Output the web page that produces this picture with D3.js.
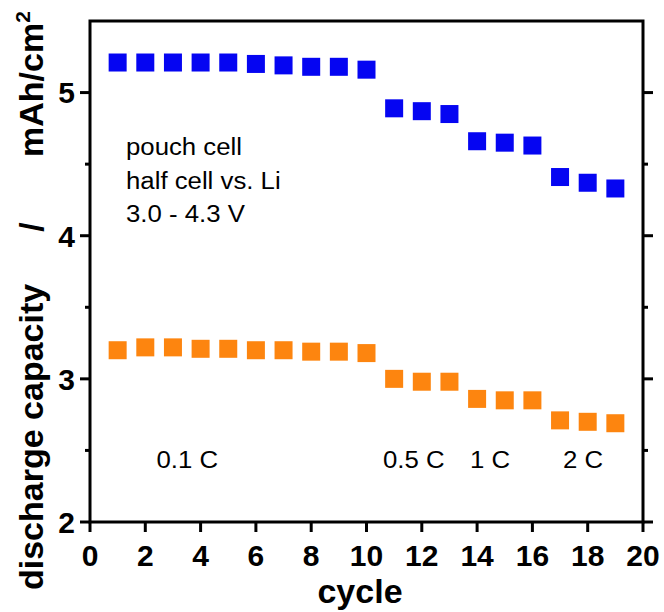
<!DOCTYPE html>
<html>
<head>
<meta charset="utf-8">
<script src="https://cdn.jsdelivr.net/npm/d3@7"></script>
<style>
  html, body { margin: 0; padding: 0; background: #fff; }
  svg { display: block; }
  text { font-family: "Liberation Sans", Arial, Helvetica, sans-serif; fill: #000; }
</style>
</head>
<body>
<svg id="chart" width="664" height="612"></svg>
<script>
// Rate-capability test: discharge capacity per cycle for the two electrodes
const cycles = [1, 2, 3, 4, 5, 6, 7, 8, 9, 10, 11, 12, 13, 14, 15, 16, 17, 18, 19];
const capacityHigh = [5.21, 5.21, 5.21, 5.21, 5.21, 5.20, 5.19, 5.18, 5.18, 5.16,
                      4.89, 4.87, 4.85, 4.66, 4.65, 4.63, 4.41, 4.37, 4.33];
const capacityLow  = [3.20, 3.22, 3.22, 3.21, 3.21, 3.20, 3.20, 3.19, 3.19, 3.18,
                      3.00, 2.98, 2.98, 2.86, 2.85, 2.85, 2.71, 2.70, 2.69];
const xTicks = [0, 2, 4, 6, 8, 10, 12, 14, 16, 18, 20];
const yTicks = [2, 3, 4, 5];
const yMinorTicks = [2.5, 3.5, 4.5];
const rateLabels = ["0.1 C", "0.5 C", "1 C", "2 C"];
const infoLines = ["pouch cell", "half cell vs. Li", "3.0 - 4.3 V"];

const svg = d3.select("#chart");
const plotL = 90, plotR = 643, plotT = 21, plotB = 522;
const x = d3.scaleLinear().domain([0, 20]).range([plotL, plotR]);
const y = d3.scaleLinear().domain([2, 5.5]).range([plotB, plotT]);

const frameW = 3, majorLen = 10, minorLen = 5;
const markSize = 18;
const blue = "#0505f2", orange = "#fd850f";

// regular text in this figure is set slightly wide
function widen(sel, factor) {
  sel.each(function () {
    const w = this.getComputedTextLength();
    d3.select(this).attr("textLength", w * factor).attr("lengthAdjust", "spacingAndGlyphs");
  });
}

// frame
svg.append("rect")
  .attr("x", plotL).attr("y", plotT)
  .attr("width", plotR - plotL).attr("height", plotB - plotT)
  .attr("fill", "none").attr("stroke", "#000").attr("stroke-width", frameW);

// x ticks (bottom, outward)
const gx = svg.append("g");
gx.selectAll("line").data(xTicks).join("line")
  .attr("x1", d => x(d)).attr("x2", d => x(d))
  .attr("y1", plotB).attr("y2", plotB + majorLen)
  .attr("stroke", "#000").attr("stroke-width", frameW);
gx.selectAll("text").data(xTicks).join("text")
  .attr("x", d => x(d)).attr("y", 566)
  .attr("text-anchor", "middle")
  .attr("font-size", 30).attr("font-weight", "bold")
  .text(d => d);

// y ticks, left and right, outward
[[plotL, -1], [plotR, 1]].forEach(([xPos, dir]) => {
  svg.append("g").selectAll("line").data(yTicks).join("line")
    .attr("x1", xPos).attr("x2", xPos + dir * majorLen)
    .attr("y1", d => y(d)).attr("y2", d => y(d))
    .attr("stroke", "#000").attr("stroke-width", frameW);
  svg.append("g").selectAll("line").data(yMinorTicks).join("line")
    .attr("x1", xPos).attr("x2", xPos + dir * minorLen)
    .attr("y1", d => y(d)).attr("y2", d => y(d))
    .attr("stroke", "#000").attr("stroke-width", frameW);
});
svg.append("g").selectAll("text").data(yTicks).join("text")
  .attr("x", 75).attr("y", d => y(d))
  .attr("dy", "0.36em")
  .attr("text-anchor", "end")
  .attr("font-size", 30).attr("font-weight", "bold")
  .text(d => d);

// axis titles
svg.append("text")
  .attr("x", 360).attr("y", 603)
  .attr("text-anchor", "middle")
  .attr("font-size", 34).attr("font-weight", "bold")
  .text("cycle");

const yTitle = svg.append("g").attr("transform", "translate(43,0) rotate(-90)");
yTitle.append("text")
  .attr("x", -590).attr("y", 0)
  .attr("text-anchor", "start")
  .attr("font-size", 34).attr("font-weight", "bold")
  .text("discharge capacity");
yTitle.append("text")
  .attr("x", -227).attr("y", 0)
  .attr("text-anchor", "middle")
  .attr("font-size", 34).attr("font-weight", "bold")
  .text("/");
const unit = yTitle.append("text")
  .attr("x", -157).attr("y", 0)
  .attr("text-anchor", "start")
  .attr("font-size", 34).attr("font-weight", "bold");
unit.append("tspan").text("mAh/cm");
unit.append("tspan").attr("dy", -13).attr("font-size", 21).text("2");

// data marks
function drawSeries(values, color) {
  svg.append("g").selectAll("rect").data(cycles).join("rect")
    .attr("x", d => x(d) - markSize / 2)
    .attr("y", (d, i) => y(values[i]) - markSize / 2)
    .attr("width", markSize).attr("height", markSize)
    .attr("fill", color);
}
drawSeries(capacityHigh, blue);
drawSeries(capacityLow, orange);

// cell description
const info = svg.append("g").selectAll("text").data(infoLines).join("text")
  .attr("x", 126).attr("y", (d, i) => 155 + i * 33.5)
  .attr("font-size", 23)
  .text(d => d);
widen(info, 1.12);

// C-rate labels
const rateX = [156.5, 383, 470, 563];
const rates = svg.append("g").selectAll("text").data(rateLabels).join("text")
  .attr("x", (d, i) => rateX[i]).attr("y", 468)
  .attr("font-size", 23)
  .text(d => d);
widen(rates, 1.12);
</script>
</body>
</html>
